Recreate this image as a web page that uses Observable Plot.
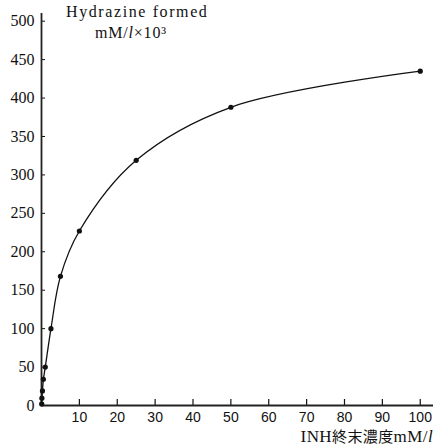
<!DOCTYPE html>
<html>
<head>
<meta charset="utf-8">
<script src="https://cdn.jsdelivr.net/npm/d3@7"></script>
<script src="https://cdn.jsdelivr.net/npm/@observablehq/plot@0.6"></script>
<style>
  html, body { margin: 0; padding: 0; background: #fff; }
  #wrap { position: relative; width: 435px; height: 446px; }
  .lbl { position: absolute; color: #111; white-space: nowrap; }
  #t1 { left: 66px; top: 3px; font: 16px "Liberation Serif", "DejaVu Serif", serif; letter-spacing: 1.6px; }
  #t2 { left: 95px; top: 24px; font: 16px "Liberation Serif", "DejaVu Serif", serif; letter-spacing: 0.8px; }
  #xl { right: 2px; top: 425px; font: 17px "Liberation Serif", "Noto Sans CJK JP", serif; letter-spacing: 0.4px; }
</style>
</head>
<body>
<div id="wrap">
  <div id="chart"></div>
  <div class="lbl" id="t1">Hydrazine formed</div>
  <div class="lbl" id="t2">mM/<i>l</i>×10³</div>
  <div class="lbl" id="xl">INH<span style="font-family:'Noto Sans CJK JP';font-size:15px">終末濃度</span>mM/<i>l</i></div>
</div>
<script>
// INH final concentration (mM/l)
const inhConc = [0.05, 0.1, 0.25, 0.5, 1, 2.5, 5, 10, 25, 50, 100];
// Hydrazine formed (mM/l × 10^3)
const hydrazine = [2, 9.5, 19, 34, 50, 100, 168, 227, 319, 388, 435];
const xTicks = [10, 20, 30, 40, 50, 60, 70, 80, 90, 100];
const yTicks = [0, 50, 100, 150, 200, 250, 300, 350, 400, 450, 500];

const data = inhConc.map((c, i) => ({c, h: hydrazine[i]}));

const chart = Plot.plot({
  width: 435,
  height: 446,
  marginLeft: 41,
  marginRight: 2,
  marginTop: 13,
  marginBottom: 41,
  style: {background: "#fff", color: "#111"},
  x: {domain: [0, 103.5]},
  y: {domain: [0, 510]},
  marks: [
    Plot.axisX({ticks: xTicks, tickSize: 0, tickPadding: 7, label: null,
      fontSize: 14, fontFamily: "Liberation Sans, Arial, sans-serif"}),
    Plot.axisX({ticks: xTicks, tickSize: -6, tickFormat: () => "", label: null, strokeWidth: 1.2}),
    Plot.axisY({ticks: yTicks, tickSize: 0, tickPadding: 7, label: null,
      fontSize: 16, fontFamily: "Liberation Serif, DejaVu Serif, serif"}),
    Plot.axisY({ticks: yTicks, tickSize: -4, tickFormat: () => "", label: null, strokeWidth: 1}),
    Plot.ruleY([0], {stroke: "#222", strokeWidth: 1.8}),
    Plot.ruleX([0], {stroke: "#222", strokeWidth: 1.8}),
    Plot.line(data, {x: "c", y: "h", curve: "catmull-rom", stroke: "#111", strokeWidth: 1.3}),
    Plot.dot(data, {x: "c", y: "h", r: 2.6, fill: "#111", stroke: "none"})
  ]
});
document.getElementById("chart").appendChild(chart);
</script>
</body>
</html>
